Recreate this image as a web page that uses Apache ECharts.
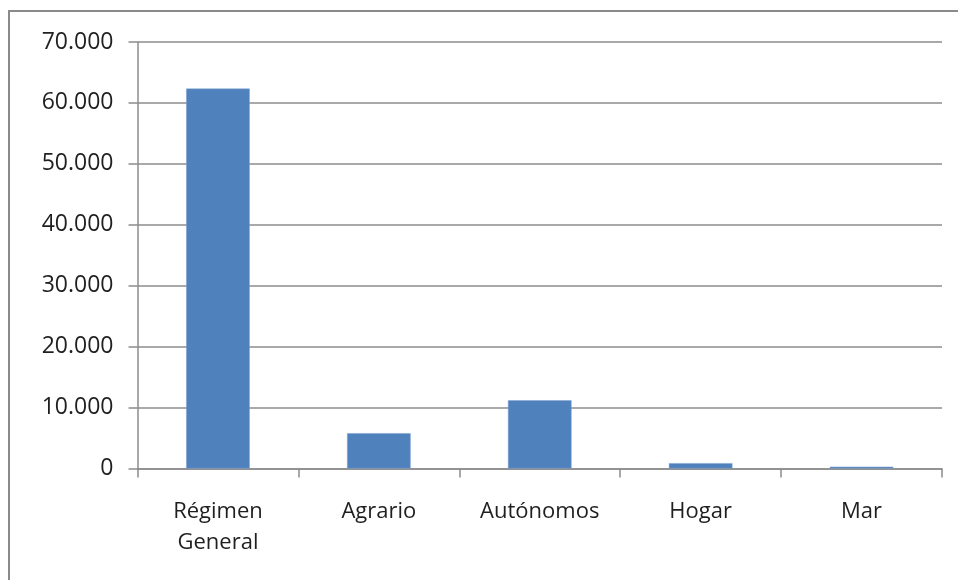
<!DOCTYPE html>
<html>
<head>
<meta charset="utf-8">
<script src="https://cdn.jsdelivr.net/npm/echarts@6/dist/echarts.min.js"></script>
<style>
html,body{margin:0;padding:0;background:#fff;}
#c{width:958px;height:580px;}
</style>
</head>
<body>
<div id="c"></div>
<script>
const categories = ['Régimen\nGeneral', 'Agrario', 'Autónomos', 'Hogar', 'Mar'];
const values = [62350, 5800, 11200, 880, 300];
const yMin = 0, yMax = 70000, yInterval = 10000;

function fmt(v){ return String(v).replace(/\B(?=(\d{3})+(?!\d))/g, '.'); }

const chart = echarts.init(document.getElementById('c'), null, {renderer:'canvas'});
chart.setOption({
  animation:false,
  backgroundColor:'#ffffff',
  textStyle:{fontFamily:'Open Sans'},
  graphic:[{
    type:'rect', shape:{x:9, y:11, width:1000, height:600},
    style:{fill:'none', stroke:'#8a8a8a', lineWidth:2}, silent:true
  }],
  grid:{left:137.5, top:42, right:16, bottom:111.5, containLabel:false},
  xAxis:{
    type:'category', data:categories,
    axisLine:{lineStyle:{color:'#8c8c8c', width:1.5}},
    axisTick:{show:true, alignWithLabel:false, length:9, lineStyle:{color:'#8c8c8c', width:1.5}},
    axisLabel:{color:'#1f1f1f', fontSize:22, fontFamily:'Open Sans', margin:28, lineHeight:31, interval:0}
  },
  yAxis:{
    type:'value', min:yMin, max:yMax, interval:yInterval,
    axisLine:{show:true, lineStyle:{color:'#8c8c8c', width:1.5}},
    axisTick:{show:true, length:9, lineStyle:{color:'#8c8c8c', width:1.5}},
    splitLine:{lineStyle:{color:'#8c8c8c', width:1.5}},
    axisLabel:{color:'#1f1f1f', fontSize:23, fontFamily:'Open Sans', margin:24, formatter:fmt}
  },
  series:[{
    type:'bar', data:values, barWidth:'39.5%',
    itemStyle:{color:'#4f81bd', borderColor:'#7fa3d0', borderWidth:0.5}
  }]
});
</script>
</body>
</html>
